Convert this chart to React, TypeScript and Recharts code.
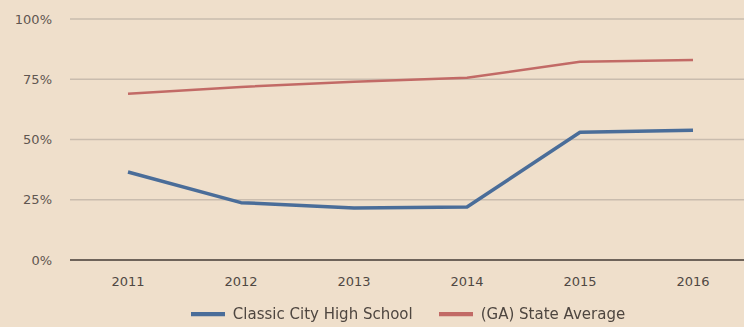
import { CartesianGrid, Legend, Line, LineChart, XAxis, YAxis } from 'recharts';

const years = ['2011', '2012', '2013', '2014', '2015', '2016'];
const classicCity = [36.5, 23.8, 21.6, 22.0, 53.0, 53.8];
const stateAverage = [69.0, 71.8, 74.0, 75.6, 82.3, 83.0];
const yTicks = [0, 25, 50, 75, 100];
const seriesNames = ['Classic City High School', '(GA) State Average'];

const data = years.map((year, i) => ({
  year,
  classic: classicCity[i],
  state: stateAverage[i],
}));

const font = '"DejaVu Sans", Arial, sans-serif';

export default function App() {
  return (
    <div style={{ position: 'fixed', top: 0, left: 0, width: 744, height: 327, background: '#efdfcb', fontFamily: font }}>
      <LineChart width={744} height={327} data={data} margin={{ top: 19, right: 0, bottom: 0, left: 0 }}>
        <CartesianGrid vertical={false} stroke="#c9bcae" strokeWidth={1.5} />
        <XAxis
          dataKey="year"
          padding={{ left: 58, right: 51 }}
          axisLine={{ stroke: '#6e635a', strokeWidth: 2 }}
          tickLine={false}
          tick={{ fill: '#4f4843', fontSize: 13, fontFamily: font }}
          tickMargin={11}
          height={33}
        />
        <YAxis
          width={70}
          domain={[0, 100]}
          ticks={yTicks}
          axisLine={false}
          tickLine={false}
          tickFormatter={(v: number) => `${v}%`}
          tick={{ fill: '#5f5650', fontSize: 13, fontFamily: font }}
          tickMargin={12}
        />
        <Legend
          verticalAlign="bottom"
          iconSize={34}
          itemSorter={(item: { value: string }) => seriesNames.indexOf(item.value)}
          wrapperStyle={{ fontSize: 15, fontFamily: font, bottom: -4, left: 84, width: 674 }}
          formatter={(value: string) => (
            <span style={{ color: '#4e4640', paddingLeft: 4, paddingRight: 16 }}>{value}</span>
          )}
        />
        <Line
          type="linear"
          dataKey="classic"
          name={seriesNames[0]}
          stroke="#4a6d99"
          strokeWidth={3.5}
          strokeLinejoin="round"
          dot={false}
          legendType="plainline"
          isAnimationActive={false}
        />
        <Line
          type="linear"
          dataKey="state"
          name={seriesNames[1]}
          stroke="#c26a66"
          strokeWidth={2.5}
          strokeLinejoin="round"
          dot={false}
          legendType="plainline"
          isAnimationActive={false}
        />
      </LineChart>
    </div>
  );
}
